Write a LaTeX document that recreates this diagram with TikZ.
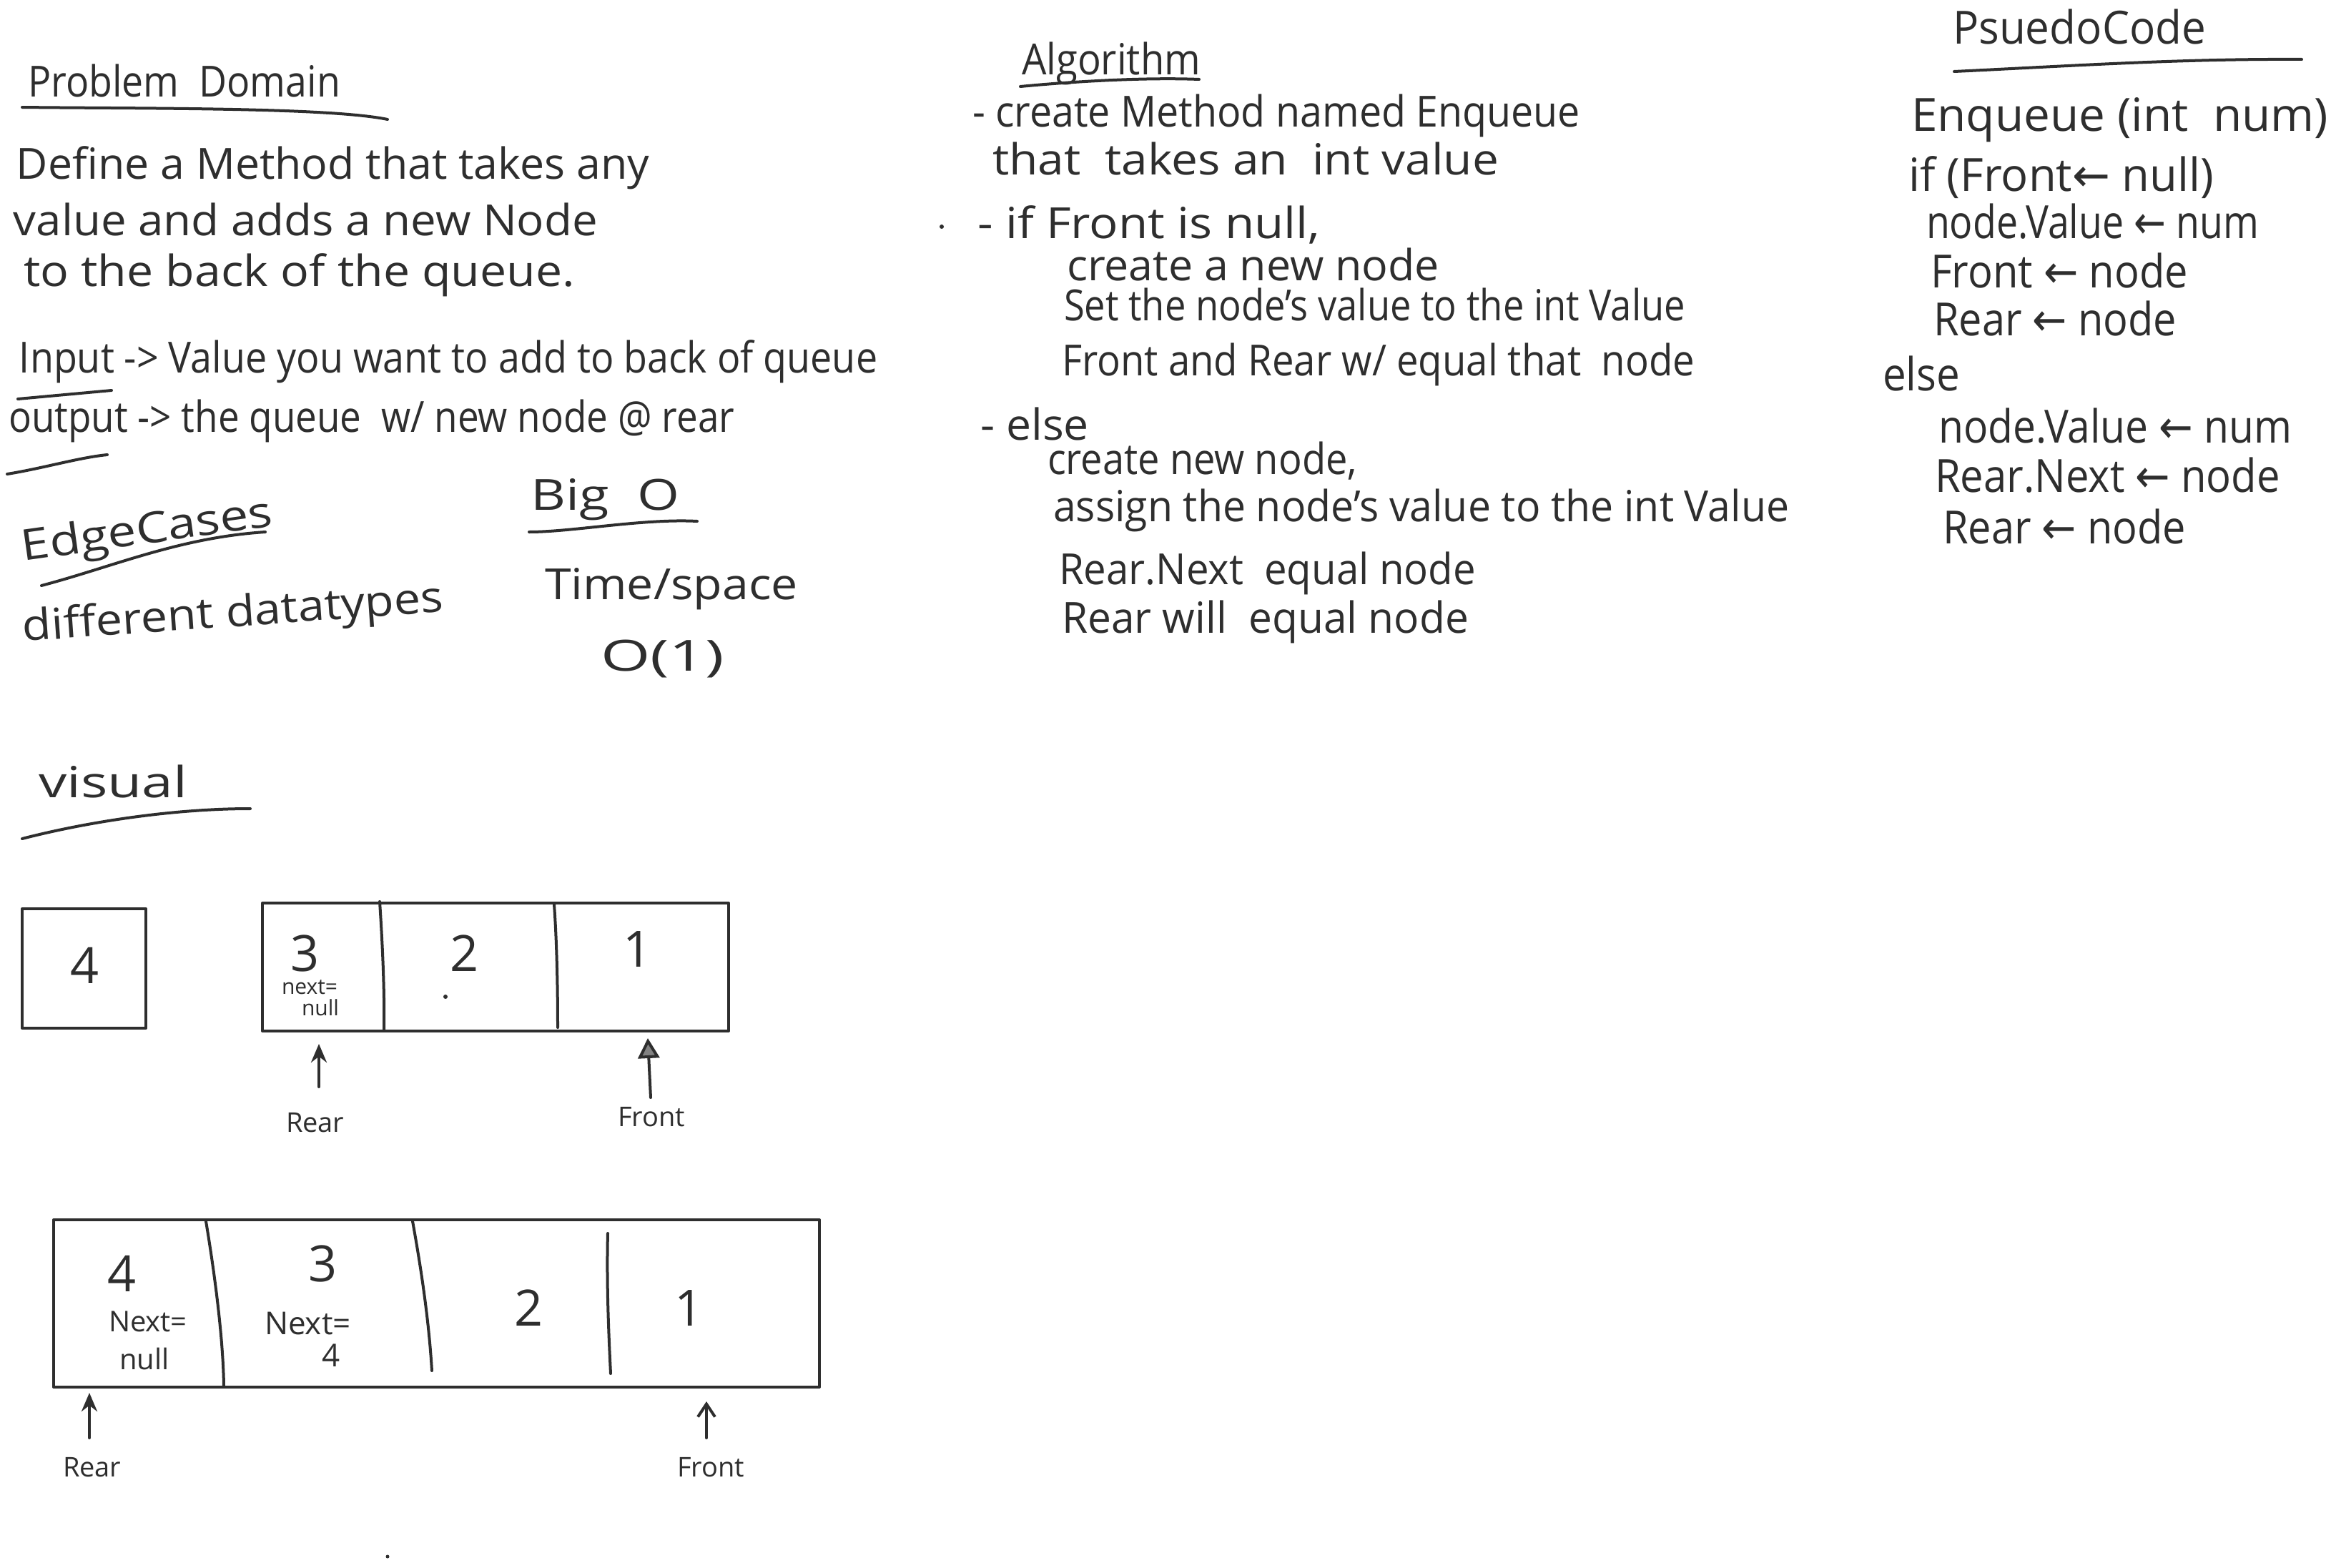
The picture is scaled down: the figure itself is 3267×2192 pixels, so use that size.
\documentclass[tikz,border=0pt]{standalone}
\usepackage{fontspec}
\setmainfont{Open Sans}
\newfontfamily\arrfont{DejaVu Sans}
\usetikzlibrary{arrows.meta}
\definecolor{ink}{HTML}{2E2E2E}
\newcommand\hw[2]{\resizebox{#1pt}{\height}{#2}}
\newcommand\la{{\arrfont ←}}
\begin{document}
\begin{tikzpicture}[x=1pt,y=-1pt, line width=4pt, line cap=round, line join=round, draw=ink,
  txt/.style={anchor=base west, inner sep=0pt, text=ink, font=\fontsize{60}{66}\selectfont},
  ptxt/.style={anchor=base west, inner sep=0pt, text=ink, font=\fontsize{64}{70}\selectfont},
  small/.style={anchor=base west, inner sep=0pt, text=ink, font=\fontsize{30}{34}\selectfont},
  mid/.style={anchor=base west, inner sep=0pt, text=ink, font=\fontsize{40}{44}\selectfont},
  dig/.style={anchor=center, inner sep=0pt, text=ink, font=\fontsize{70}{76}\selectfont},
  lbl/.style={anchor=base west, inner sep=0pt, text=ink, font=\fontsize{38}{42}\selectfont},
  qbox/.style={draw=ink, line width=4pt},
  ul/.style={draw=ink, line width=4pt},
  ptr/.style={draw=ink, line width=4pt, -{Stealth[length=26pt,width=22pt]}},
  ptro/.style={draw=ink, line width=4pt, -{Straight Barb[length=18pt,width=24pt]}},
  ptrt/.style={draw=ink, line width=4pt, -{Triangle[length=28pt,width=30pt,fill=ink!60]}}]
\fill[white] (0,0) rectangle (3267,2192);
\useasboundingbox (0,0) rectangle (3267,2192);

% ---------- Problem domain ----------
\node[txt] (pd) at (37,135) {\hw{437}{Problem\ \ Domain}};
\draw[ul] (31,150) .. controls (200,152) and (460,150) .. (542,167);
\node[txt] (d1) at (21,250) {\hw{885}{Define a Method that takes any}};
\node[txt] (d2) at (17,329) {\hw{817}{value and adds a new Node}};
\node[txt] (d3) at (31,400) {\hw{771}{to the back of the queue.}};
\node[txt] (in) at (25,521) {\hw{1200}{Input -> Value you want to add to back of queue}};
\draw[ul] (25,558) -- (156,546);
\node[txt] (out) at (10,604) {\hw{1015}{output -> the queue\ \ w/ new node @ rear}};
\draw[ul] (10,663) .. controls (60,655) and (110,640) .. (150,636);

% ---------- Edge cases / Big O ----------
\node[txt, rotate=8] (ec) at (31,785) {\hw{354}{EdgeCases}};
\draw[ul] (58,819) .. controls (160,792) and (250,752) .. (371,744);
\node[txt, rotate=4] (dd) at (31,897) {\hw{590}{different datatypes}};
\node[txt] (bo) at (740,713) {\hw{208}{Big\ \ O}};
\draw[ul] (740,744) .. controls (800,744) and (900,725) .. (975,729);
\node[txt] (ts) at (760,838) {\hw{354}{Time/space}};
\node[txt] (o1) at (838,938) {\hw{173}{O(1)}};

% ---------- visual ----------
\node[txt] (vis) at (52,1115) {\hw{208}{visual}};
\draw[ul] (31,1173) .. controls (120,1150) and (240,1131) .. (350,1131);

% single node 4
\draw[qbox] (31,1271) rectangle (204,1438);
\node[dig] (n4) at (119,1350) {4};

% queue 1
\draw[qbox] (367,1263) rectangle (1019,1442);
\draw[qbox] (531,1261) .. controls (535,1320) and (538,1390) .. (537,1440);
\draw[qbox] (775,1265) .. controls (779,1320) and (780,1390) .. (780,1437);
\node[dig] (q13) at (427,1333) {3};
\node[small] (q13n) at (392,1390) {next=};
\node[small] (q13m) at (420,1420) {null};
\node[dig] (q12) at (650,1333) {2};
\fill[ink] (623,1394) circle (3);
\node[dig] (q11) at (892,1327) {1};

\node[lbl] (rear1) at (398,1583) {Rear};
\coordinate (rear1t) at (446,1460);
\draw[ptr] (446,1520) -- (rear1t);
\node[lbl] (front1) at (862,1575) {Front};
\coordinate (front1t) at (906,1452);
\draw[ptrt] (910,1535) -- (front1t);

% queue 2
\draw[qbox] (75,1706) rectangle (1146,1940);
\draw[qbox] (288,1708) .. controls (300,1780) and (312,1870) .. (313,1938);
\draw[qbox] (577,1708) .. controls (590,1780) and (600,1850) .. (604,1917);
\draw[qbox] (850,1725) .. controls (848,1800) and (852,1880) .. (854,1921);
\node[dig] (q24) at (171,1781) {4};
\node[mid] (q24n) at (150,1862) {Next=};
\node[mid] (q24m) at (165,1915) {null};
\node[dig] (q23) at (452,1767) {3};
\node[mid, font=\fontsize{44}{48}\selectfont] (q23n) at (368,1866) {Next=};
\node[dig, font=\fontsize{44}{48}\selectfont] (q23m) at (463,1896) {4};
\node[dig] (q22) at (740,1829) {2};
\node[dig] (q21) at (963,1829) {1};

\node[lbl] (rear2) at (86,2065) {Rear};
\coordinate (rear2t) at (125,1948);
\draw[ptr] (125,2011) -- (rear2t);
\node[lbl] (front2) at (945,2065) {Front};
\coordinate (front2t) at (988,1960);
\draw[ptro] (988,2011) -- (front2t);
\fill[ink] (542,2177) circle (2.5);

% ---------- Algorithm ----------
\node[txt] (alg) at (1427,104) {\hw{250}{Algorithm}};
\draw[ul] (1427,121) .. controls (1500,114) and (1600,108) .. (1677,111);
\node[txt] (a1) at (1358,177) {\hw{850}{- create Method named Enqueue}};
\node[txt] (a2) at (1386,244) {\hw{708}{that\ \ takes an\ \ int value}};
\fill[ink] (1317,317) circle (3);
\node[txt] (a3) at (1365,333) {\hw{479}{- if Front is null,}};
\node[txt] (a4) at (1490,392) {\hw{521}{create a new node}};
\node[txt] (a5) at (1486,448) {\hw{869}{Set the node's value to the int Value}};
\node[txt] (a6) at (1483,525) {\hw{885}{Front and Rear w/ equal that\ \ node}};
\node[txt] (a7) at (1369,615) {\hw{152}{- else}};
\node[txt] (a8) at (1463,663) {\hw{433}{create new node,}};
\node[txt] (a9) at (1471,729) {\hw{1029}{assign the node's value to the int Value}};
\node[txt] (a10) at (1479,817) {\hw{583}{Rear.Next\ \ equal node}};
\node[txt] (a11) at (1483,885) {\hw{569}{Rear will\ \ equal node}};

% ---------- Pseudo code ----------
\node[ptxt] (ps) at (2729,62) {\hw{354}{PsuedoCode}};
\draw[ul] (2733,100) .. controls (2900,92) and (3050,82) .. (3219,83);
\node[ptxt] (p1) at (2671,183) {\hw{583}{Enqueue (int\ \ num)}};
\node[ptxt] (p2) at (2667,267) {\hw{427}{if (Front\la\ null)}};
\node[ptxt] (p3) at (2692,333) {\hw{465}{node.Value \la\ num}};
\node[ptxt] (p4) at (2698,402) {\hw{360}{Front \la\ node}};
\node[ptxt] (p5) at (2702,469) {\hw{340}{Rear \la\ node}};
\node[ptxt] (p6) at (2631,546) {\hw{108}{else}};
\node[ptxt] (p7) at (2709,619) {\hw{494}{node.Value \la\ num}};
\node[ptxt] (p8) at (2704,688) {\hw{483}{Rear.Next \la\ node}};
\node[ptxt] (p9) at (2715,760) {\hw{340}{Rear \la\ node}};
\end{tikzpicture}
\end{document}
